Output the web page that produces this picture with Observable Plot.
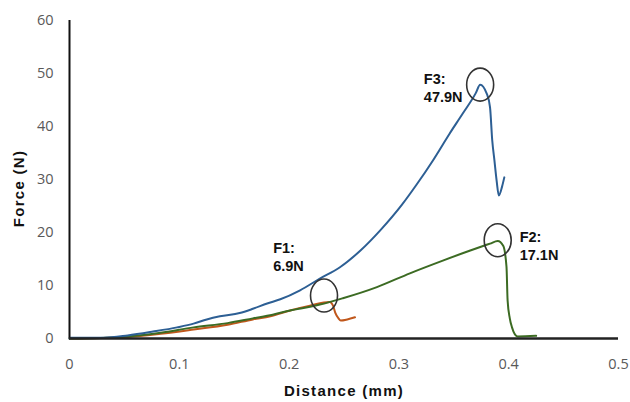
<!DOCTYPE html>
<html>
<head>
<meta charset="utf-8">
<script src="https://cdn.jsdelivr.net/npm/d3@7"></script>
<script src="https://cdn.jsdelivr.net/npm/@observablehq/plot@0.6"></script>
<style>
  html, body { margin: 0; padding: 0; background: #fff; }
  #chart { width: 630px; height: 402px; }
</style>
</head>
<body>
<div id="chart"></div>
<script>
// Sample F3 (blue)
const f3Dist  = [0, 0.001, 0.031, 0.053, 0.076, 0.098, 0.113, 0.125, 0.137, 0.155, 0.167, 0.18, 0.192, 0.21, 0.228, 0.246, 0.265, 0.283, 0.303, 0.316, 0.331, 0.346, 0.358, 0.37, 0.374, 0.38, 0.383, 0.385, 0.387, 0.389, 0.391, 0.394, 0.396];
const f3Force = [0, 0.13, 0.13, 0.57, 1.3, 2.1, 2.8, 3.6, 4.2, 4.8, 5.6, 6.6, 7.4, 9.1, 11.3, 13.4, 16.6, 20.4, 25.3, 29.0, 33.6, 38.6, 42.4, 46.3, 47.9, 46.2, 43.6, 37.4, 33.6, 29.8, 27.0, 28.7, 30.4];
// Sample F2 (green)
const f2Dist  = [0, 0.028, 0.053, 0.083, 0.113, 0.144, 0.167, 0.185, 0.201, 0.219, 0.228, 0.249, 0.28, 0.31, 0.34, 0.365, 0.383, 0.39, 0.395, 0.398, 0.399, 0.401, 0.403, 0.408, 0.425];
const f2Force = [0, 0.1, 0.4, 1.1, 2.1, 2.9, 3.8, 4.5, 5.3, 6.0, 6.4, 7.6, 9.7, 12.3, 14.7, 16.6, 17.9, 18.4, 17.5, 13.5, 7.2, 3.8, 2.1, 0.4, 0.5];
// Sample F1 (orange)
const f1Dist  = [0, 0.053, 0.083, 0.113, 0.144, 0.167, 0.183, 0.201, 0.219, 0.237, 0.24, 0.242, 0.245, 0.247, 0.253, 0.26];
const f1Force = [0, 0.3, 0.9, 1.7, 2.6, 3.6, 4.2, 5.3, 6.2, 6.9, 6.2, 4.9, 3.8, 3.4, 3.6, 4.0];

// Annotations
const peakNames  = ["F1:\n6.9N", "F2:\n17.1N", "F3:\n47.9N"];
const circleX    = [0.2318, 0.39, 0.374];
const circleY    = [8.1, 18.55, 47.9];
const labelX     = [0.1855, 0.41, 0.3227];
const labelY     = [18.6, 20.7, 50.5];

// Ticks
const xTicks = [0, 0.1, 0.2, 0.3, 0.4, 0.5];
const yTicks = [0, 10, 20, 30, 40, 50, 60];

const toRows = (xs, ys) => xs.map((x, i) => ({x, y: ys[i]}));
const f1 = toRows(f1Dist, f1Force);
const f2 = toRows(f2Dist, f2Force);
const f3 = toRows(f3Dist, f3Force);
const circles = circleX.map((x, i) => ({x, y: circleY[i]}));
const labels = labelX.map((x, i) => ({x, y: labelY[i], t: peakNames[i]}));

// ellipse symbol (slightly taller than wide)
const ellipse = {
  draw(ctx, size) {
    const rx = 13.5, ry = 16.5, k = 0.5523;
    ctx.moveTo(rx, 0);
    ctx.bezierCurveTo(rx, k * ry, k * rx, ry, 0, ry);
    ctx.bezierCurveTo(-k * rx, ry, -rx, k * ry, -rx, 0);
    ctx.bezierCurveTo(-rx, -k * ry, -k * rx, -ry, 0, -ry);
    ctx.bezierCurveTo(k * rx, -ry, rx, -k * ry, rx, 0);
    ctx.closePath();
  }
};

const tickFont = "'Open Sans', sans-serif";
const boldFont = "'Liberation Sans', Arial, sans-serif";
const axisTitles = ["Distance (mm)", "Force (N)"];

const plot = Plot.plot({
  width: 630,
  height: 402,
  marginLeft: 69,
  marginRight: 12,
  marginTop: 20,
  marginBottom: 64,
  style: {background: "#fff", fontFamily: tickFont},
  x: {domain: [0, 0.5]},
  y: {domain: [0, 60]},
  marks: [
    Plot.axisX({ticks: xTicks, tickSize: 0, tickPadding: 20, fontSize: 14.5, fill: "#595959", label: null, tickFormat: d => String(d)}),
    Plot.axisY({ticks: yTicks, tickSize: 0, tickPadding: 16, fontSize: 14.5, fill: "#595959", label: null}),
    Plot.line(f1, {x: "x", y: "y", stroke: "#c0571b", strokeWidth: 2, curve: "monotone-x"}),
    Plot.line(f2, {x: "x", y: "y", stroke: "#3c6b23", strokeWidth: 2, curve: "monotone-x"}),
    Plot.line(f3, {x: "x", y: "y", stroke: "#2d5f94", strokeWidth: 2, curve: "monotone-x"}),
    Plot.ruleX([0], {stroke: "#111", strokeWidth: 2}),
    Plot.ruleY([0], {stroke: "#222", strokeWidth: 2.5}),
    Plot.dot(circles, {x: "x", y: "y", symbol: ellipse, stroke: "#333", strokeWidth: 1.6, fill: "none"}),
    Plot.text(labels, {x: "x", y: "y", text: "t", textAnchor: "start", lineAnchor: "top", lineHeight: 1.25, fontSize: 14.5, fontWeight: "bold", fontFamily: boldFont, fill: "#111"}),
    Plot.text([axisTitles[0]], {frameAnchor: "bottom", dy: 53, textAnchor: "middle", lineAnchor: "middle", fontSize: 15, fontWeight: "bold", fontFamily: boldFont, fill: "#111"}),
    Plot.text([axisTitles[1]], {frameAnchor: "left", dx: -50, dy: 9, rotate: -90, textAnchor: "middle", lineAnchor: "middle", fontSize: 15, fontWeight: "bold", fontFamily: boldFont, fill: "#111"})
  ]
});

d3.select(plot).selectAll("text")
  .filter(function() { return axisTitles.includes(this.textContent); })
  .style("letter-spacing", "1.3px");
document.getElementById("chart").appendChild(plot);
</script>
</body>
</html>
